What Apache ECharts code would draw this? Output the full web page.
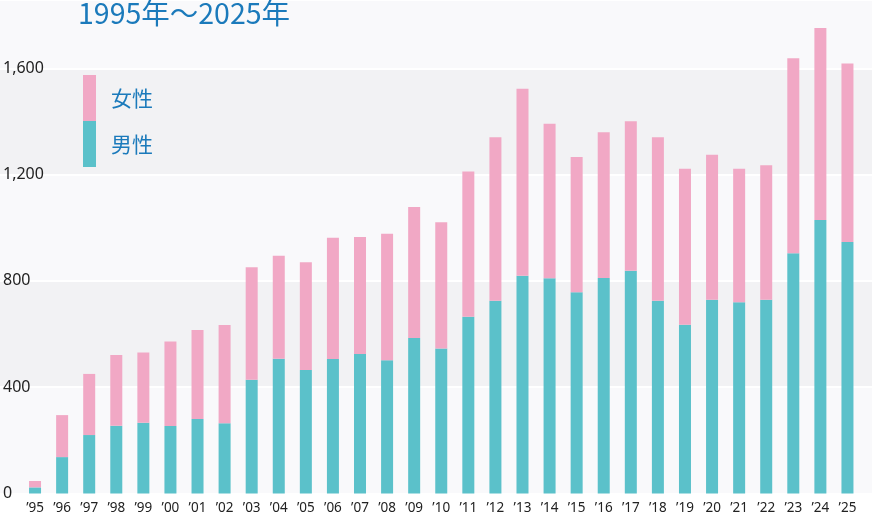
<!DOCTYPE html>
<html>
<head>
<meta charset="utf-8">
<script src="https://cdn.jsdelivr.net/npm/echarts@6/dist/echarts.min.js"></script>
<style>
  html, body { margin: 0; padding: 0; background: #ffffff; }
  #main { width: 880px; height: 518px; }
</style>
</head>
<body>
<div id="main"></div>
<script>
var chartDom = document.getElementById('main');
var myChart = echarts.init(chartDom);
var option;

// 年度ラベル
var years = ['’95', '’96', '’97', '’98', '’99', '’00', '’01', '’02', '’03', '’04',
    '’05', '’06', '’07', '’08', '’09', '’10', '’11', '’12', '’13', '’14',
    '’15', '’16', '’17', '’18', '’19', '’20', '’21', '’22', '’23', '’24', '’25'];
// 男性
var male = [23, 137, 220, 255, 266, 254, 280, 264, 428, 507,
    465, 506, 525, 501, 585, 546, 665, 725, 819, 810,
    757, 811, 838, 725, 635, 729, 720, 729, 904, 1029, 946];
// 女性
var female = [24, 158, 230, 266, 265, 318, 335, 370, 423, 388,
    405, 456, 440, 476, 493, 475, 547, 616, 704, 581,
    509, 548, 563, 616, 587, 546, 502, 506, 734, 723, 672];
var yTicks = [0, 400, 800, 1200, 1600];

var yMax = 1857;
var blue = '#1b7abb';
var font = '"Noto Sans CJK JP", "Noto Sans", sans-serif';

option = {
    backgroundColor: '#ffffff',
    animation: false,
    title: {
        text: '1995年～2025年',
        left: 73,
        top: -6,
        textStyle: {
            color: blue,
            fontSize: 28.5,
            fontWeight: 'normal',
            fontFamily: font
        }
    },
    legend: {
        data: ['女性', '男性'],
        orient: 'vertical',
        left: 78,
        top: 70,
        icon: 'rect',
        itemWidth: 13,
        itemHeight: 46,
        itemGap: 0,
        textStyle: {
            color: blue,
            fontSize: 21,
            fontFamily: font,
            padding: [0, 0, 0, 10]
        }
    },
    // 背景の帯と目盛りは grid 0、棒は grid 1
    grid: [
        { left: 0, right: 8, top: 0, bottom: 24.5 },
        { left: 21.5, right: 19, top: 0, bottom: 24.5 }
    ],
    xAxis: [{
        type: 'category',
        gridIndex: 0,
        data: years,
        show: false
    }, {
        type: 'category',
        gridIndex: 1,
        data: years,
        axisLine: { show: false },
        axisTick: { show: false },
        axisLabel: {
            color: '#222',
            fontSize: 13.5,
            fontFamily: '"Noto Sans", sans-serif',
            margin: 8,
            interval: 0
        }
    }],
    yAxis: [{
        type: 'value',
        gridIndex: 0,
        min: 0,
        max: yMax,
        interval: 400,
        axisLine: { show: false },
        axisTick: { show: false },
        axisLabel: {
            inside: true,
            margin: 3,
            color: '#222',
            fontSize: 16,
            fontFamily: '"Noto Sans", sans-serif',
            formatter: function (v) {
                if (yTicks.indexOf(v) < 0) return '';
                return v.toLocaleString('en-US');
            }
        },
        splitLine: {
            show: true,
            lineStyle: { color: '#ffffff', width: 2 }
        },
        splitArea: {
            show: true,
            areaStyle: { color: ['#f9f9fb', '#f2f2f4'] }
        }
    }, {
        type: 'value',
        gridIndex: 1,
        min: 0,
        max: yMax,
        show: false,
        splitLine: { show: false }
    }],
    series: [{
        name: '男性',
        type: 'bar',
        stack: 'total',
        xAxisIndex: 1,
        yAxisIndex: 1,
        barWidth: 12,
        itemStyle: { color: '#5bc1ca' },
        data: male
    }, {
        name: '女性',
        type: 'bar',
        stack: 'total',
        xAxisIndex: 1,
        yAxisIndex: 1,
        barWidth: 12,
        itemStyle: { color: '#f1a8c5' },
        data: female
    }]
};

option && myChart.setOption(option);
</script>
</body>
</html>
